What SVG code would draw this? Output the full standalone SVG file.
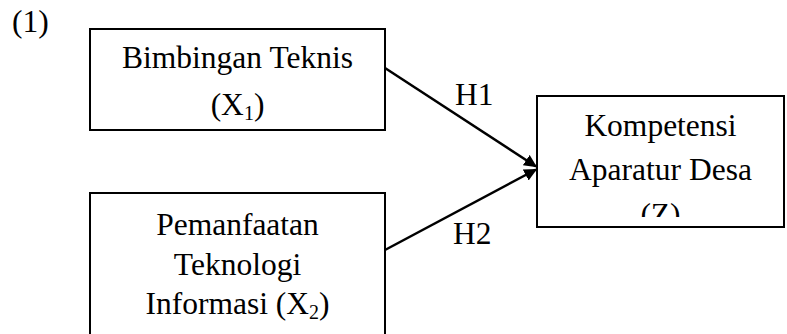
<svg xmlns="http://www.w3.org/2000/svg" width="787" height="334" viewBox="0 0 787 334">
  <style>
    .box { fill: #fff; stroke: #000; stroke-width: 2; }
    .t { font-family: "Liberation Serif", "Times New Roman", serif; font-size: 31.5px; fill: #000; }
    .c { text-anchor: middle; }
    .sub { font-size: 20px; }
    .edge { stroke: #000; stroke-width: 2.5; fill: none; }
  </style>
  <defs>
    <marker id="arrow" viewBox="0 0 10 10" refX="9" refY="5" markerWidth="5.2" markerHeight="5" orient="auto" markerUnits="strokeWidth" preserveAspectRatio="none">
      <path d="M0,0 L10,5 L0,10 z" fill="#000"/>
    </marker>
    <clipPath id="clipZ">
      <rect x="537" y="96" width="247" height="121"/>
    </clipPath>
  </defs>
  <rect width="787" height="334" fill="#fff"/>

  <text class="t" x="12" y="32">(1)</text>

  <g id="connectors">
    <line class="edge" x1="385" y1="68" x2="536" y2="166.5" marker-end="url(#arrow)"/>
    <line class="edge" x1="385" y1="250" x2="536" y2="169.5" marker-end="url(#arrow)"/>
    <text class="t" x="455" y="105">H1</text>
    <text class="t" x="453" y="244">H2</text>
  </g>

  <g id="node-x1">
    <rect class="box" x="90" y="29" width="295" height="101"/>
    <text class="t c" x="237.5" y="68">Bimbingan Teknis</text>
    <text class="t c" x="237.5" y="115">(X<tspan class="sub" dy="5">1</tspan><tspan dy="-5">)</tspan></text>
  </g>

  <g id="node-x2">
    <rect class="box" x="90" y="193" width="295" height="160"/>
    <text class="t c" x="237.5" y="235">Pemanfaatan</text>
    <text class="t c" x="237.5" y="275">Teknologi</text>
    <text class="t c" x="237.5" y="314">Informasi (X<tspan class="sub" dy="5">2</tspan><tspan dy="-5">)</tspan></text>
  </g>

  <g id="node-z">
    <rect class="box" x="537" y="96" width="247" height="131"/>
    <text class="t c" x="660.5" y="136">Kompetensi</text>
    <text class="t c" x="660.5" y="180">Aparatur Desa</text>
    <text class="t c" x="660.5" y="225" clip-path="url(#clipZ)">(Z)</text>
  </g>
</svg>
